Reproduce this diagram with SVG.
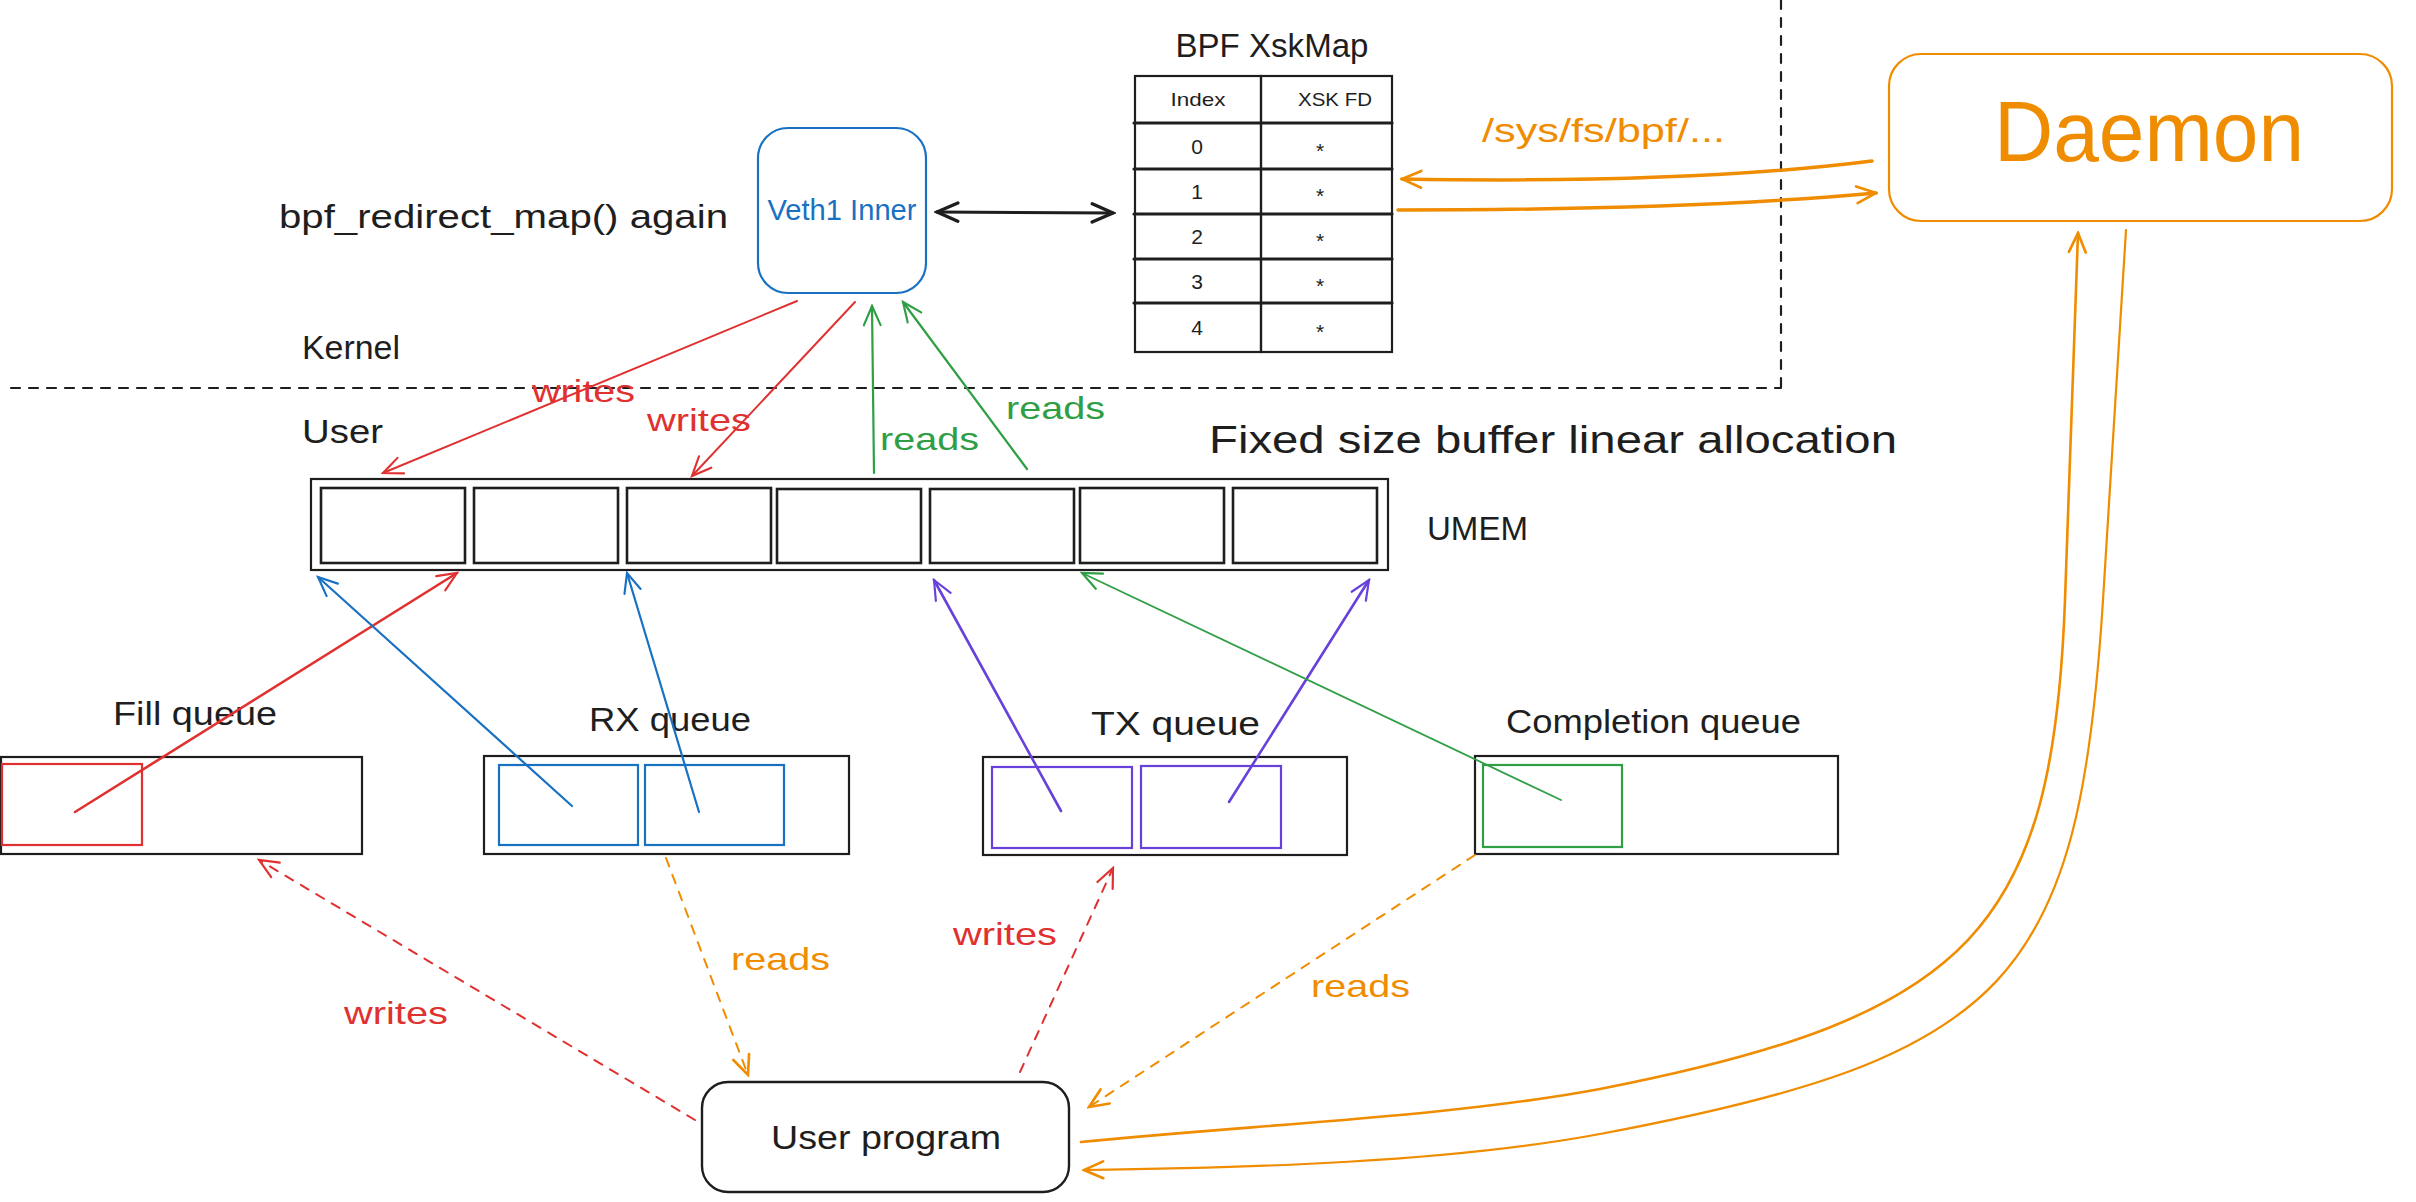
<svg xmlns="http://www.w3.org/2000/svg" width="2416" height="1202" viewBox="0 0 2416 1202">
<style>
text{font-family:"Liberation Sans","Noto Sans",sans-serif;fill:#1e1e1e}
.box{fill:none;stroke:#1e1e1e;stroke-width:2.2}
.cell{fill:none;stroke:#1e1e1e;stroke-width:2.6}
.ln{fill:none;stroke-linecap:round;stroke-linejoin:round}
.dash{stroke-dasharray:9 9}
.red{stroke:#e03131}.blue{stroke:#1971c2}.green{stroke:#2f9e44}.purple{stroke:#6741d9}.orange{stroke:#f08c00}.black{stroke:#1e1e1e}
.tr{fill:#e03131}.tg{fill:#2f9e44}.to{fill:#f08c00}.tb{fill:#1971c2}
.c{text-anchor:middle}
</style>
<defs>
<marker id="aR" viewBox="0 0 20 20" refX="18" refY="10" markerWidth="24" markerHeight="24" markerUnits="userSpaceOnUse" orient="auto-start-reverse"><path d="M2,3 L18,10 L2,17" fill="none" stroke="#e03131" stroke-width="1.8" stroke-linecap="round"/></marker>
<marker id="aB" viewBox="0 0 20 20" refX="18" refY="10" markerWidth="24" markerHeight="24" markerUnits="userSpaceOnUse" orient="auto-start-reverse"><path d="M2,3 L18,10 L2,17" fill="none" stroke="#1971c2" stroke-width="1.8" stroke-linecap="round"/></marker>
<marker id="aG" viewBox="0 0 20 20" refX="18" refY="10" markerWidth="24" markerHeight="24" markerUnits="userSpaceOnUse" orient="auto-start-reverse"><path d="M2,3 L18,10 L2,17" fill="none" stroke="#2f9e44" stroke-width="1.8" stroke-linecap="round"/></marker>
<marker id="aP" viewBox="0 0 20 20" refX="18" refY="10" markerWidth="24" markerHeight="24" markerUnits="userSpaceOnUse" orient="auto-start-reverse"><path d="M2,3 L18,10 L2,17" fill="none" stroke="#6741d9" stroke-width="1.8" stroke-linecap="round"/></marker>
<marker id="aO" viewBox="0 0 20 20" refX="18" refY="10" markerWidth="24" markerHeight="24" markerUnits="userSpaceOnUse" orient="auto-start-reverse"><path d="M2,3 L18,10 L2,17" fill="none" stroke="#f08c00" stroke-width="2.2" stroke-linecap="round"/></marker>
<marker id="aK" viewBox="0 0 20 20" refX="18" refY="10" markerWidth="26" markerHeight="26" markerUnits="userSpaceOnUse" orient="auto-start-reverse"><path d="M2,3 L18,10 L2,17" fill="none" stroke="#1e1e1e" stroke-width="2.6" stroke-linecap="round"/></marker>
</defs>

<g id="boundary">
<path class="ln black dash" stroke-width="2.2" d="M11,388 H1781 M1781,0 V388"/>
</g>

<g id="labels">
<text x="279" y="228" font-size="34" textLength="449" lengthAdjust="spacingAndGlyphs">bpf_redirect_map() again</text>
<text x="302" y="359" font-size="34" textLength="98" lengthAdjust="spacingAndGlyphs">Kernel</text>
<text x="302" y="443" font-size="34" textLength="81" lengthAdjust="spacingAndGlyphs">User</text>
<text x="1209" y="453" font-size="38" textLength="688" lengthAdjust="spacingAndGlyphs">Fixed size buffer linear allocation</text>
<text x="1427" y="540" font-size="34" textLength="101" lengthAdjust="spacingAndGlyphs">UMEM</text>
<text x="1482" y="142" font-size="34" class="to" textLength="243" lengthAdjust="spacingAndGlyphs">/sys/fs/bpf/...</text>
</g>

<g id="veth1-inner">
<rect x="758" y="128" width="168" height="165" rx="30" fill="none" stroke="#1971c2" stroke-width="2.2"/>
<text x="842" y="220" font-size="29" class="c tb" textLength="149" lengthAdjust="spacingAndGlyphs">Veth1 Inner</text>
</g>

<g id="bpf-xskmap">
<text x="1272" y="57" font-size="34" class="c" textLength="193" lengthAdjust="spacingAndGlyphs">BPF XskMap</text>
<rect class="box" x="1135" y="76" width="257" height="276" stroke-width="2.6"/>
<path class="ln black" stroke-width="2.4" d="M1261,76 V352"/>
<path class="ln black" stroke-width="3.2" d="M1134,123 H1392 M1134,169 H1392 M1134,214 H1392 M1134,259 H1392 M1134,303 H1392"/>
<text x="1198" y="106" font-size="19" class="c" textLength="55" lengthAdjust="spacingAndGlyphs">Index</text>
<text x="1335" y="106" font-size="19" class="c" textLength="74" lengthAdjust="spacingAndGlyphs">XSK FD</text>
<g font-size="21">
<text x="1197" y="154" class="c">0</text>
<text x="1197" y="199" class="c">1</text>
<text x="1197" y="244" class="c">2</text>
<text x="1197" y="289" class="c">3</text>
<text x="1197" y="335" class="c">4</text>
<text x="1320" y="158" class="c">*</text>
<text x="1320" y="203" class="c">*</text>
<text x="1320" y="248" class="c">*</text>
<text x="1320" y="293" class="c">*</text>
<text x="1320" y="339" class="c">*</text>
</g>
</g>

<g id="daemon">
<rect x="1889" y="54" width="503" height="167" rx="32" fill="none" stroke="#f08c00" stroke-width="2.2"/>
<text x="2149" y="161" font-size="86" class="c to" textLength="310" lengthAdjust="spacingAndGlyphs">Daemon</text>
</g>

<g id="umem">
<rect class="box" x="311" y="479" width="1077" height="91"/>
<rect class="cell" x="321" y="488" width="144" height="75"/>
<rect class="cell" x="474" y="488" width="144" height="75"/>
<rect class="cell" x="627" y="488" width="144" height="75"/>
<rect class="cell" x="777" y="489" width="144" height="74"/>
<rect class="cell" x="930" y="489" width="144" height="74"/>
<rect class="cell" x="1080" y="488" width="144" height="75"/>
<rect class="cell" x="1233" y="488" width="144" height="75"/>
</g>

<g id="fill-queue">
<text x="113" y="725" font-size="34" textLength="164" lengthAdjust="spacingAndGlyphs">Fill queue</text>
<rect class="box" x="1" y="757" width="361" height="97"/>
<rect x="2" y="764" width="140" height="81" fill="none" stroke="#e03131" stroke-width="2.2"/>
</g>

<g id="rx-queue">
<text x="589" y="731" font-size="34" textLength="162" lengthAdjust="spacingAndGlyphs">RX queue</text>
<rect class="box" x="484" y="756" width="365" height="98"/>
<rect x="499" y="765" width="139" height="80" fill="none" stroke="#1971c2" stroke-width="2.2"/>
<rect x="645" y="765" width="139" height="80" fill="none" stroke="#1971c2" stroke-width="2.2"/>
</g>

<g id="tx-queue">
<text x="1091" y="735" font-size="34" textLength="169" lengthAdjust="spacingAndGlyphs">TX queue</text>
<rect class="box" x="983" y="757" width="364" height="98"/>
<rect x="992" y="767" width="140" height="81" fill="none" stroke="#6741d9" stroke-width="2.2"/>
<rect x="1141" y="766" width="140" height="82" fill="none" stroke="#6741d9" stroke-width="2.2"/>
</g>

<g id="completion-queue">
<text x="1506" y="733" font-size="34" textLength="295" lengthAdjust="spacingAndGlyphs">Completion queue</text>
<rect class="box" x="1475" y="756" width="363" height="98"/>
<rect x="1483" y="765" width="139" height="82" fill="none" stroke="#2f9e44" stroke-width="2.2"/>
</g>

<g id="user-program">
<rect x="702" y="1082" width="367" height="110" rx="26" fill="none" stroke="#1e1e1e" stroke-width="2.4"/>
<text x="886" y="1149" font-size="34" class="c" textLength="230" lengthAdjust="spacingAndGlyphs">User program</text>
</g>

<g id="connectors">
<path class="ln black" stroke-width="3" d="M937,212 L1113,213" marker-start="url(#aK)" marker-end="url(#aK)"/>
<path class="ln orange" stroke-width="3.5" d="M1872,161 Q1690,184 1402,179" marker-end="url(#aO)"/>
<path class="ln orange" stroke-width="3.5" d="M1398,210 Q1690,210 1876,193" marker-end="url(#aO)"/>

<path class="ln red" stroke-width="2" d="M797,301 L383,473" marker-end="url(#aR)"/>
<path class="ln red" stroke-width="2" d="M855,302 L692,476" marker-end="url(#aR)"/>
<path class="ln green" stroke-width="2.2" d="M874,473 L872,306" marker-end="url(#aG)"/>
<path class="ln green" stroke-width="2.2" d="M1027,469 L903,302" marker-end="url(#aG)"/>

<path class="ln red" stroke-width="2.6" d="M75,812 L457,573" marker-end="url(#aR)"/>
<path class="ln blue" stroke-width="2.2" d="M572,806 L318,577" marker-end="url(#aB)"/>
<path class="ln blue" stroke-width="2.2" d="M699,812 L627,573" marker-end="url(#aB)"/>
<path class="ln purple" stroke-width="2.6" d="M1061,811 L934,580" marker-end="url(#aP)"/>
<path class="ln purple" stroke-width="2.6" d="M1229,802 L1369,580" marker-end="url(#aP)"/>
<path class="ln green" stroke-width="1.8" d="M1561,800 L1082,573" marker-end="url(#aG)"/>

<path class="ln red dash" stroke-width="2" d="M695,1120 L259,860" marker-end="url(#aR)"/>
<path class="ln orange dash" stroke-width="2" d="M666,858 L748,1075" marker-end="url(#aO)"/>
<path class="ln red dash" stroke-width="2" d="M1020,1072 L1113,868" marker-end="url(#aR)"/>
<path class="ln orange dash" stroke-width="2" d="M1475,855 L1089,1107" marker-end="url(#aO)"/>

<path class="ln orange" stroke-width="2.6" d="M1081,1142 C1250,1125 1450,1117 1600,1089 C1973,1016 2053,928 2065,600 L2078,233" marker-end="url(#aO)"/>
<path class="ln orange" stroke-width="2.2" d="M2126,230 L2103,600 C2079,982 2010,1057 1600,1134 C1450,1162 1250,1168 1084,1170" marker-end="url(#aO)"/>

<text x="532" y="402" font-size="32" class="tr" textLength="103" lengthAdjust="spacingAndGlyphs">writes</text>
<text x="647" y="431" font-size="32" class="tr" textLength="104" lengthAdjust="spacingAndGlyphs">writes</text>
<text x="880" y="450" font-size="32" class="tg" textLength="99" lengthAdjust="spacingAndGlyphs">reads</text>
<text x="1006" y="419" font-size="32" class="tg" textLength="99" lengthAdjust="spacingAndGlyphs">reads</text>
<text x="344" y="1024" font-size="32" class="tr" textLength="104" lengthAdjust="spacingAndGlyphs">writes</text>
<text x="731" y="970" font-size="32" class="to" textLength="99" lengthAdjust="spacingAndGlyphs">reads</text>
<text x="953" y="945" font-size="32" class="tr" textLength="104" lengthAdjust="spacingAndGlyphs">writes</text>
<text x="1311" y="997" font-size="32" class="to" textLength="99" lengthAdjust="spacingAndGlyphs">reads</text>
</g>
</svg>
